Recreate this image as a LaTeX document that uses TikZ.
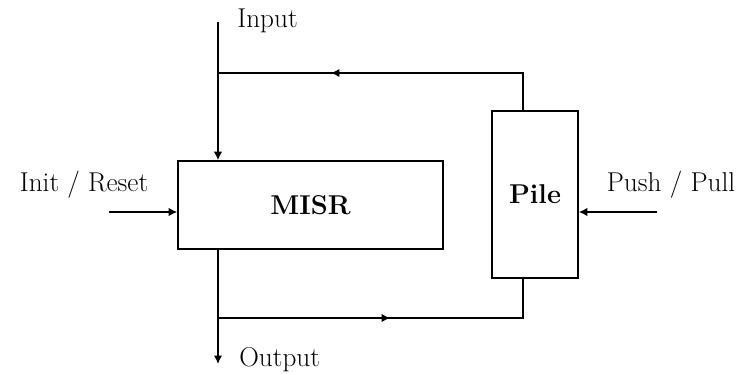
\documentclass[tikz,border=0pt]{standalone}
\usetikzlibrary{arrows.meta,positioning,calc,decorations.markings}

\begin{document}
\begin{tikzpicture}[x=0.02cm,y=-0.02cm,
        block/.style={draw,line width=0.9pt,rectangle,inner sep=0pt,font=\fontsize{15.5}{18}\selectfont\bfseries},
        wire/.style={line width=0.9pt},
        tip/.style={wire,-{Latex[length=1.7mm,width=1.7mm]}},
        midtip/.style={wire,decoration={markings,mark=at position #1 with {\arrow{Latex[length=1.7mm,width=1.7mm]}}},postaction={decorate}},
        lbl/.style={font=\fontsize{15.5}{18}\selectfont,inner sep=0pt}]
        \useasboundingbox (0,0) rectangle (742,374);

        % Blocks
        \node[block,minimum width=5.3cm,minimum height=1.76cm] (misr) at (310.5,205) {MISR};
        \node[block,minimum width=1.72cm,minimum height=3.34cm] (pile) at (535,194.5) {Pile};

        % Free ends
        \coordinate (in) at (218,22);
        \coordinate (out) at (218,364);
        \coordinate (top) at (218,73);
        \coordinate (bot) at (218,318);
        \coordinate (init) at (109,212);
        \coordinate (push) at (657,212);

        % Labels
        \node[lbl,anchor=base west] (inlbl) at (237,28) {Input};
        \node[lbl,anchor=base west] (outlbl) at (239,366) {Output};
        \node[lbl,anchor=base] (initlbl) at (84,192) {Init / Reset};
        \node[lbl,anchor=base] (pushlbl) at (671,192) {Push / Pull};

        % Arrows
        \draw[tip] (in) -- (in |- misr.north);
        \draw[tip] (in |- misr.south) -- (out);
        \draw[tip] (init) -- (init -| misr.west);
        \draw[tip] (push) -- (push -| pile.east);
        \draw[midtip=0.67] ($(pile.north)+(-12,0)$) |- (top);
        \draw[midtip=0.5] (bot) -| ($(pile.south)+(-12,0)$);
\end{tikzpicture}
\end{document}
